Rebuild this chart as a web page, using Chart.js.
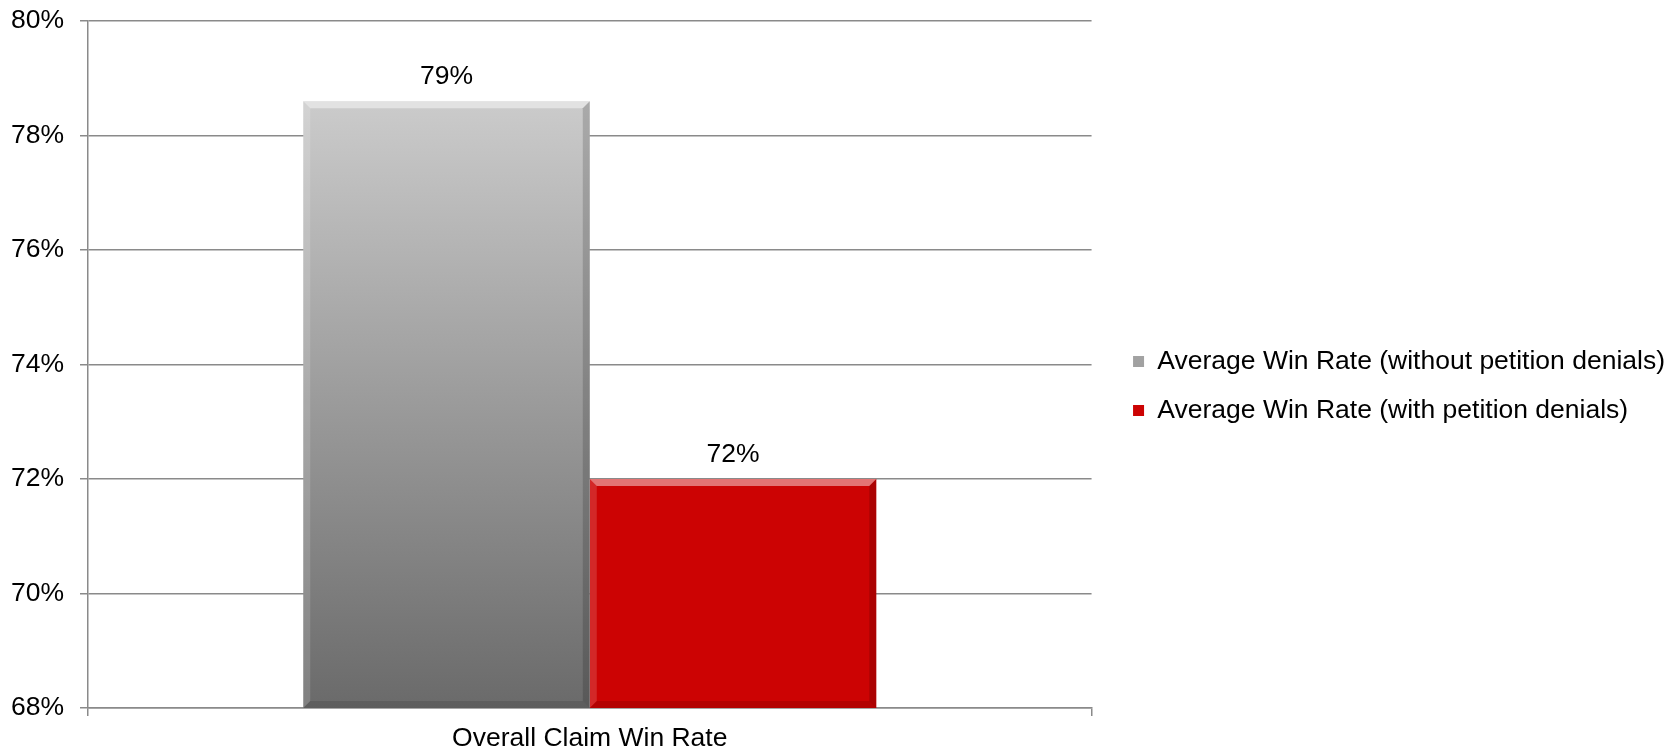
<!DOCTYPE html>
<html>
<head>
<meta charset="utf-8">
<script src="https://cdn.jsdelivr.net/npm/chart.js@4.4.1/dist/chart.umd.min.js"></script>
<style>
  html, body { margin: 0; padding: 0; background: #fff; }
  #wrap { width: 1675px; height: 751px; }
</style>
</head>
<body>
<div id="wrap"><canvas id="mygraph"></canvas></div>
<script>
let categories = ["Overall Claim Win Rate"];
let seriesNames = ["Average Win Rate (without petition denials)", "Average Win Rate (with petition denials)"];
let withoutDenials = [78.6];
let withDenials = [72.0];
let yMin = 68;
let yMax = 80;
let yStep = 2;

Chart.defaults.font.family = "'Liberation Sans', Arial, sans-serif";
Chart.defaults.font.size = 26.5;
Chart.defaults.color = "#000";

var axisGray = "#8a8a8a";

function grayFill(context) {
  var area = context.chart.chartArea;
  if (!area) return "#a0a0a0";
  var g = context.chart.ctx.createLinearGradient(0, area.top, 0, area.bottom);
  g.addColorStop(0, "#d8d8d8");
  g.addColorStop(1, "#6a6a6a");
  return g;
}

// bevel edges + value labels on top of bars
var barDecor = {
  id: "barDecor",
  afterDatasetsDraw: function (chart) {
    var ctx = chart.ctx;
    var area = chart.chartArea;
    chart.data.datasets.forEach(function (ds, i) {
      var meta = chart.getDatasetMeta(i);
      meta.data.forEach(function (bar, j) {
        var p = bar.getProps(["x", "y", "base", "width"], true);
        var l = p.x - p.width / 2, r = p.x + p.width / 2, t = p.y;
        var b = Math.min(p.base, area.bottom);
        var d = 7;
        ctx.save();
        ctx.fillStyle = "rgba(255,255,255,0.45)";
        ctx.beginPath();
        ctx.moveTo(l, t); ctx.lineTo(r, t); ctx.lineTo(r - d, t + d); ctx.lineTo(l + d, t + d);
        ctx.closePath(); ctx.fill();
        ctx.fillStyle = "rgba(255,255,255,0.15)";
        ctx.beginPath();
        ctx.moveTo(l, t); ctx.lineTo(l + d, t + d); ctx.lineTo(l + d, b - d); ctx.lineTo(l, b);
        ctx.closePath(); ctx.fill();
        ctx.fillStyle = "rgba(0,0,0,0.16)";
        ctx.beginPath();
        ctx.moveTo(r, t); ctx.lineTo(r - d, t + d); ctx.lineTo(r - d, b - d); ctx.lineTo(r, b);
        ctx.closePath(); ctx.fill();
        ctx.fillStyle = "rgba(0,0,0,0.12)";
        ctx.beginPath();
        ctx.moveTo(l, b); ctx.lineTo(l + d, b - d); ctx.lineTo(r - d, b - d); ctx.lineTo(r, b);
        ctx.closePath(); ctx.fill();

        ctx.fillStyle = "#000";
        ctx.font = "26.5px 'Liberation Sans', Arial, sans-serif";
        ctx.textAlign = "center";
        ctx.textBaseline = "middle";
        ctx.fillText(Math.round(ds.data[j]) + "%", p.x, t - 24);
        ctx.restore();
      });
    });
  }
};

var ctx = document.getElementById("mygraph");

var mygraph = new Chart(ctx, {
  type: "bar",
  data: {
    labels: categories,
    datasets: [
      {
        label: seriesNames[0],
        data: withoutDenials,
        backgroundColor: grayFill,
        borderWidth: 0,
        categoryPercentage: 0.571,
        barPercentage: 1
      },
      {
        label: seriesNames[1],
        data: withDenials,
        backgroundColor: "#cc0303",
        borderWidth: 0,
        categoryPercentage: 0.571,
        barPercentage: 1
      }
    ]
  },
  options: {
    responsive: true,
    maintainAspectRatio: false,
    animation: false,
    layout: { padding: { top: 21, left: 0, right: 0, bottom: 0 } },
    plugins: {
      tooltip: { enabled: false },
      legend: {
        position: "right",
        maxWidth: 620,
        labels: {
          boxWidth: 11,
          boxHeight: 11,
          padding: 22.5,
          color: "#000",
          font: { size: 26.5 }
        }
      }
    },
    scales: {
      x: {
        afterFit: function (axis) { axis.height = 43; },
        grid: {
          display: true,
          drawOnChartArea: false,
          drawTicks: true,
          tickLength: 8,
          color: axisGray,
          lineWidth: 1.5
        },
        border: { display: true, color: axisGray, width: 1.5 },
        ticks: { padding: 9, font: { size: 26.5, lineHeight: 1 } }
      },
      y: {
        min: yMin,
        max: yMax,
        afterFit: function (axis) {
          axis.width = 88;
          axis.paddingTop = 0;
          axis.paddingBottom = 0;
        },
        grid: { color: axisGray, lineWidth: 1.5, tickLength: 8 },
        border: { display: true, color: axisGray, width: 1.5 },
        ticks: {
          stepSize: yStep,
          padding: 16,
          font: { size: 26.5 },
          callback: function (v) { return v + "%"; }
        }
      },
      yRight: {
        position: "right",
        display: true,
        afterFit: function (axis) { axis.width = 19; },
        grid: { display: false },
        border: { display: false },
        ticks: { display: false }
      }
    }
  },
  plugins: [barDecor]
});
</script>
</body>
</html>
